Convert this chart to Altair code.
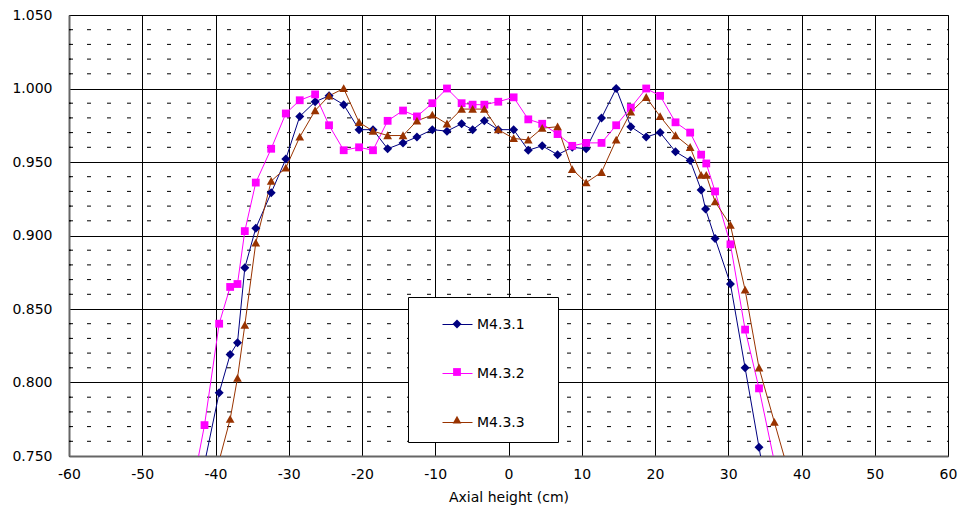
import altair as alt
import pandas as pd

# Axial profiles of the three measurement runs (position in cm, relative value)
series_names = ["M4.3.1", "M4.3.2", "M4.3.3"]
series_colors = ["#000080", "#FF00FF", "#993300"]

pos_m431 = [-41.5, -39.5, -38.0, -37.0, -36.0, -34.5, -32.4, -30.4, -28.5, -26.4,
            -24.5, -22.5, -20.4, -18.5, -16.5, -14.4, -12.5, -10.4, -8.4, -6.4,
            -4.9, -3.3, -1.4, 0.7, 2.7, 4.6, 6.7, 8.7, 10.6, 12.7,
            14.7, 16.7, 18.8, 20.7, 22.8, 24.8, 26.3, 26.9, 28.2, 30.3,
            32.3, 34.2, 36.3]
val_m431 = [0.745, 0.793, 0.819, 0.827, 0.878, 0.905, 0.929, 0.952, 0.981, 0.991,
            0.995, 0.989, 0.972, 0.972, 0.959, 0.963, 0.967, 0.972, 0.971, 0.976,
            0.972, 0.978, 0.972, 0.972, 0.958, 0.961, 0.955, 0.960, 0.959, 0.980,
            1.000, 0.974, 0.967, 0.970, 0.957, 0.951, 0.931, 0.918, 0.898, 0.867,
            0.810, 0.756, 0.696]

pos_m432 = [-43.5, -41.5, -39.5, -38.0, -37.0, -36.0, -34.5, -32.4, -30.4, -28.5,
            -26.4, -24.5, -22.5, -20.4, -18.5, -16.5, -14.4, -12.5, -10.4, -8.4,
            -6.4, -4.9, -3.3, -1.4, 0.7, 2.7, 4.6, 6.7, 8.7, 10.6,
            12.7, 14.7, 16.7, 18.8, 20.7, 22.8, 24.8, 26.3, 27.0, 28.2,
            30.3, 32.3, 34.2, 36.3]
val_m432 = [0.719, 0.771, 0.840, 0.865, 0.867, 0.903, 0.936, 0.959, 0.983, 0.992,
            0.996, 0.975, 0.958, 0.960, 0.958, 0.978, 0.985, 0.981, 0.990, 1.000,
            0.990, 0.989, 0.989, 0.991, 0.994, 0.979, 0.976, 0.969, 0.961, 0.963,
            0.963, 0.975, 0.987, 1.000, 0.995, 0.977, 0.970, 0.955, 0.949, 0.930,
            0.894, 0.836, 0.796, 0.746]

pos_m433 = [-41.5, -39.6, -38.0, -37.0, -36.0, -34.5, -32.4, -30.4, -28.5, -26.4,
            -24.5, -22.5, -20.4, -18.5, -16.5, -14.4, -12.5, -10.4, -8.4, -6.4,
            -4.9, -3.3, -1.4, 0.7, 2.7, 4.6, 6.7, 8.7, 10.6, 12.7,
            14.7, 16.7, 18.8, 20.7, 22.8, 24.8, 26.3, 27.0, 28.2, 30.3,
            32.3, 34.2, 36.3, 38.3]
val_m433 = [0.713, 0.745, 0.775, 0.803, 0.839, 0.895, 0.937, 0.946, 0.967, 0.985,
            0.995, 1.000, 0.977, 0.971, 0.968, 0.968, 0.978, 0.982, 0.976, 0.986,
            0.986, 0.986, 0.972, 0.966, 0.965, 0.973, 0.974, 0.945, 0.936, 0.943,
            0.965, 0.984, 0.994, 0.981, 0.968, 0.960, 0.941, 0.941, 0.923, 0.907,
            0.863, 0.810, 0.773, 0.738]

x_ticks = [-60, -50, -40, -30, -20, -10, 0, 10, 20, 30, 40, 50, 60]
y_ticks = [0.75, 0.80, 0.85, 0.90, 0.95, 1.00, 1.05]
y_minor = [round(0.75 + 0.01 * i, 2) for i in range(31) if i % 5]

frames = []
for name, xs, ys in zip(series_names,
                        [pos_m431, pos_m432, pos_m433],
                        [val_m431, val_m432, val_m433]):
    frames.append(pd.DataFrame({"series": name, "x": xs, "y": ys}))
df = pd.concat(frames, ignore_index=True)
minor_df = pd.DataFrame({"y": y_minor})

# Marker legend keys carry a trailing space so the two legends stay separate
marker_keys = [n + " " for n in series_names]

FONT = "DejaVu Sans"
FS = 14
W, H = 879, 441

x_scale = alt.Scale(domain=[-60, 60], nice=False, zero=False)
y_scale = alt.Scale(domain=[0.75, 1.05], nice=False, zero=False)

axis_text = dict(labelFont=FONT, labelFontSize=FS, labelColor="#000",
                 titleFont=FONT, titleFontSize=FS, titleFontWeight="normal",
                 titleColor="#000")
x_axis = alt.Axis(values=x_ticks, labelExpr="toString(datum.value)",
                  title="Axial height (cm)", grid=True, gridColor="#000",
                  gridWidth=1, ticks=False, tickSize=0, labelPadding=11,
                  domainColor="#666", domainWidth=2, titlePadding=9,
                  labelFlush=False, labelOverlap=False, **axis_text)
y_axis = alt.Axis(values=y_ticks, format=".3f", title=None, grid=True,
                  gridColor="#000", gridWidth=1, ticks=False, tickSize=0,
                  labelPadding=17, domainColor="#666", domainWidth=2,
                  labelFlush=False, labelOverlap=False, **axis_text)

# Two legends share one box: the line segments underneath, the markers on top.
legend_common = dict(
    orient="none", legendX=339, legendY=282, title=None, padding=12,
    symbolSize=900, symbolOffset=22, rowPadding=26,
    labelFont=FONT, labelFontSize=FS, labelColor="#000",
)
line_legend = alt.Legend(
    fillColor="white", strokeColor="#000", symbolType="M-1,0H1",
    symbolStrokeWidth=1, symbolOpacity=1, zindex=1, labelOffset=4,
    labelExpr="datum.label + '\u2800\u2800'", **legend_common
)
marker_legend = alt.Legend(
    symbolOpacity=1, symbolStrokeWidth=0, labelExpr="''", zindex=2,
    **legend_common
)

# Marker outlines drawn inside a [-1, 1] box; at size 900 they are ~8-9 px wide
marker_paths = [
    "M-0.3,0L0,-0.3L0.3,0L0,0.3Z",
    "M-0.26,-0.26H0.26V0.26H-0.26Z",
    "M-0.29,0.24H0.29L0,-0.28Z",
]

X = alt.X("x:Q", scale=x_scale, axis=x_axis)
Y = alt.Y("y:Q", scale=y_scale, axis=y_axis)

# Dashed minor gridlines every 0.01
minor_grid = alt.Chart(minor_df).mark_rule(
    color="#000", strokeWidth=1, strokeDash=[4, 16], strokeDashOffset=2
).encode(y=alt.Y("y:Q", scale=y_scale, axis=y_axis), x=alt.datum(-60), x2=alt.datum(60))

# Small inside tick marks on the value axis
minor_ticks = alt.Chart(minor_df).mark_rule(color="#000", strokeWidth=1).encode(
    y=alt.Y("y:Q", scale=y_scale, axis=y_axis), x=alt.value(0), x2=alt.value(4)
)

lines = alt.Chart(df).mark_line(strokeWidth=1, clip=True).encode(
    x=X, y=Y,
    color=alt.Color("series:N",
                    scale=alt.Scale(domain=series_names, range=series_colors),
                    legend=line_legend),
    detail="series:N", order="x:Q",
)
points = alt.Chart(df).transform_filter("datum.y >= 0.75").transform_calculate(
    run="datum.series + ' '"
).mark_point(
    filled=True, opacity=1, size=900, clip=True, strokeWidth=0
).encode(
    x=X, y=Y,
    fill=alt.Fill("run:N",
                  scale=alt.Scale(domain=marker_keys, range=series_colors),
                  legend=marker_legend),
    shape=alt.Shape("run:N",
                    scale=alt.Scale(domain=marker_keys, range=marker_paths),
                    legend=marker_legend),
)

chart = alt.layer(minor_grid, minor_ticks, lines, points).properties(
    width=W, height=H,
    background="white",
    autosize=alt.AutoSizeParams(type="none"),
    padding={"left": 69, "top": 15, "right": 18, "bottom": 54},
).configure_view(stroke="#444", strokeWidth=1)

chart.save("out.html", embed_options={"renderer": "svg", "actions": False})
